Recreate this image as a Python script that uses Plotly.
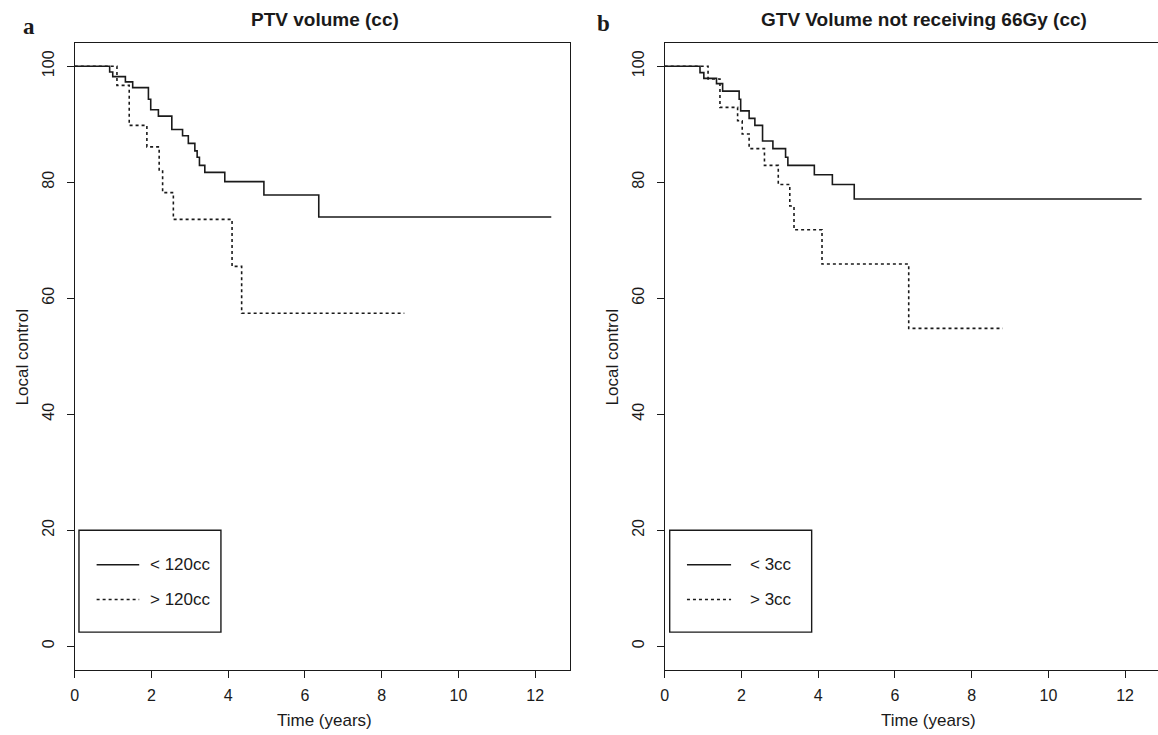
import plotly.graph_objects as go

# ---------------- data ----------------
# Panel a: PTV volume
a_lt_time = [0, 0.91, 0.99, 1.32, 1.51, 1.92, 1.98, 2.18, 2.53, 2.81, 2.96, 3.13, 3.19, 3.25, 3.39, 3.91, 4.93, 6.36, 12.42]
a_lt_surv = [100, 99.0, 98.2, 97.3, 96.3, 94.3, 92.5, 91.4, 89.1, 88.0, 86.7, 85.4, 84.3, 82.9, 81.7, 80.1, 77.8, 74.0, 74.0]
a_gt_time = [0, 1.10, 1.42, 1.88, 2.20, 2.29, 2.57, 4.10, 4.35, 8.59]
a_gt_surv = [100, 96.7, 89.8, 86.1, 82.1, 78.2, 73.6, 65.5, 57.4, 57.4]

# Panel b: GTV volume not receiving 66Gy
b_lt_time = [0, 0.92, 1.02, 1.35, 1.51, 1.94, 1.98, 2.20, 2.35, 2.55, 2.82, 3.15, 3.21, 3.90, 4.37, 4.94, 12.43]
b_lt_surv = [100, 98.9, 97.9, 97.0, 95.7, 94.3, 92.3, 91.0, 89.8, 87.1, 85.8, 84.3, 82.9, 81.3, 79.6, 77.1, 77.1]
b_gt_time = [0, 1.13, 1.44, 1.90, 2.02, 2.20, 2.60, 2.96, 3.26, 3.37, 4.10, 6.36, 8.81]
b_gt_surv = [100, 97.8, 92.9, 90.6, 88.3, 85.8, 82.9, 79.6, 75.9, 71.8, 65.9, 54.8, 54.8]

panel_titles = ["PTV volume (cc)", "GTV Volume not receiving 66Gy (cc)"]
panel_letters = ["a", "b"]
legend_a = ["< 120cc", "> 120cc"]
legend_b = ["< 3cc", "> 3cc"]
x_ticks = [0, 2, 4, 6, 8, 10, 12]
y_ticks = [0, 20, 40, 60, 80, 100]
x_title = "Time (years)"
y_title = "Local control"

# ---------------- figure ----------------
W, H = 1158, 735
INK = "#1a1a1a"
SANS = "Liberation Sans, Arial, Helvetica, sans-serif"
SERIF = "Liberation Serif, Times New Roman, serif"

def px_x(p):
    return p / W

def px_y(p):
    return 1 - p / H

fig = go.Figure()

def add_curve(t, s, xa, ya, dash):
    fig.add_trace(go.Scatter(
        x=t, y=s, mode="lines", line_shape="hv",
        line=dict(color=INK, width=1.6, dash=dash),
        xaxis=xa, yaxis=ya, showlegend=False, hoverinfo="skip"))

DOT = "3px,3px"
add_curve(a_lt_time, a_lt_surv, "x", "y", "solid")
add_curve(a_gt_time, a_gt_surv, "x", "y", DOT)
add_curve(b_lt_time, b_lt_surv, "x2", "y2", "solid")
add_curve(b_gt_time, b_gt_surv, "x2", "y2", DOT)

ppy = 38.5  # px per year
y_top, y_bot = 43, 669.5
ax_common = dict(showgrid=False, zeroline=False, showline=True, linecolor=INK, linewidth=1.4,
                 ticks="outside", ticklen=7, tickwidth=1.4, tickcolor=INK,
                 tickfont=dict(family=SANS, size=16, color=INK))

a_left, a_right = 71.0, 567.5
b_left, b_right = 663.0, W

fig.update_layout(
    width=W, height=H, margin=dict(l=0, r=0, t=0, b=0),
    paper_bgcolor="white", plot_bgcolor="white", showlegend=False,
    xaxis=dict(domain=[px_x(a_left), px_x(a_right)], range=[0, (a_right - a_left) / ppy],
               tickvals=x_ticks, mirror=True, anchor="y", ticklabelstandoff=4, **ax_common),
    yaxis=dict(domain=[px_y(y_bot), px_y(y_top)], range=[-4, 104], tickvals=y_ticks,
               tickangle=-90, mirror=True, anchor="x", ticklabelstandoff=6, **ax_common),
    xaxis2=dict(domain=[px_x(b_left), 1.0], range=[0, (b_right - b_left) / ppy],
                tickvals=x_ticks, mirror=True, anchor="y2", ticklabelstandoff=4, **ax_common),
    yaxis2=dict(domain=[px_y(y_bot), px_y(y_top)], range=[-4, 104], tickvals=y_ticks,
                tickangle=-90, mirror=False, anchor="x2", ticklabelstandoff=6, **ax_common),
)

annotations = []
def text(x, y, s, size=17, bold=False, family=SANS, angle=0, xanchor="center"):
    if bold:
        s = "<b>" + s + "</b>"
    annotations.append(dict(x=x, y=y, xref="paper", yref="paper", text=s, showarrow=False,
                            font=dict(family=family, size=size, color=INK), textangle=angle,
                            xanchor=xanchor, yanchor="middle"))

# panel titles / letters
text(px_x(322.5), px_y(19), panel_titles[0], size=19, bold=True)
text(px_x(923), px_y(19), panel_titles[1], size=19, bold=True)
text(px_x(25), px_y(26), panel_letters[0], size=23, bold=True, family=SERIF)
text(px_x(602), px_y(24), panel_letters[1], size=23, bold=True, family=SERIF)
# axis titles
text(px_x(322), px_y(720), x_title, size=17)
text(px_x(928), px_y(720), x_title, size=17)
text(px_x(18.5), px_y(357), y_title, size=17, angle=-90)
text(px_x(610.5), px_y(357), y_title, size=17, angle=-90)

# legends (drawn as boxes with line samples, in axis coordinates)
shapes = []
def legend(xr, yr, box, l1, l2, tx, labels):
    shapes.append(dict(type="rect", xref=xr, yref=yr, x0=box[0], x1=box[1], y0=box[2], y1=box[3],
                       line=dict(color=INK, width=1.4), fillcolor="white", layer="above"))
    shapes.append(dict(type="line", xref=xr, yref=yr, x0=l1[0], x1=l1[1], y0=l1[2], y1=l1[2],
                       line=dict(color=INK, width=1.6)))
    shapes.append(dict(type="line", xref=xr, yref=yr, x0=l1[0], x1=l1[1], y0=l2, y1=l2,
                       line=dict(color=INK, width=1.6, dash=DOT)))
    for lab, yy in zip(labels, [l1[2], l2]):
        annotations.append(dict(x=tx, y=yy, xref=xr, yref=yr, text=lab, showarrow=False,
                                font=dict(family=SANS, size=17, color=INK),
                                xanchor="left", yanchor="middle"))

legend("x", "y", (0.11, 3.81, 2.45, 20.0), (0.57, 1.68, 14.06), 8.07, 1.91, legend_a)
legend("x2", "y2", (0.13, 3.83, 2.45, 20.0), (0.58, 1.73, 14.06), 8.07, 2.18, legend_b)

fig.update_layout(annotations=annotations, shapes=shapes)
fig.write_html("out.html", config={"displayModeBar": False},
               post_script="document.body.style.margin='0';document.body.style.overflow='hidden';")
